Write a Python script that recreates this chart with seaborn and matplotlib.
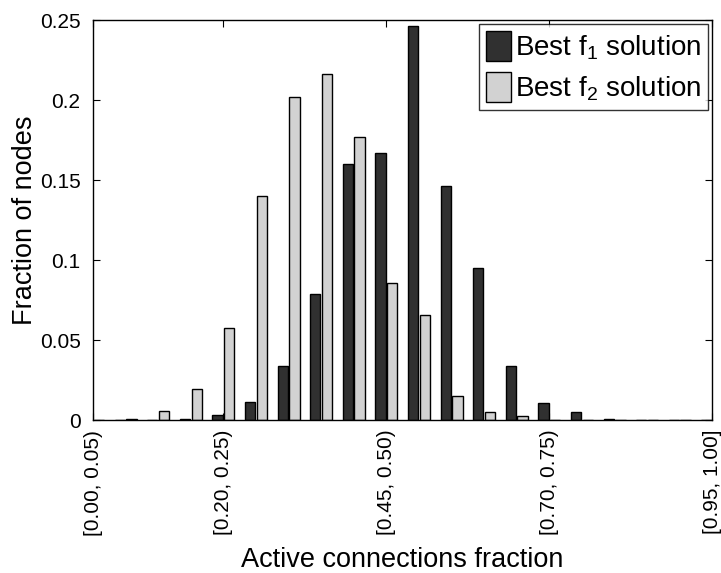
import pandas as pd
import seaborn as sns
import matplotlib.pyplot as plt

# bins of the active connections fraction, width 0.05
bin_labels = ["[%.2f, %.2f)" % (i * 0.05, (i + 1) * 0.05) for i in range(19)] + ["[0.95, 1.00]"]

best_f1 = [0.0, 0.0, 0.0, 0.0005, 0.0033, 0.011, 0.034, 0.079, 0.160, 0.167,
           0.246, 0.146, 0.095, 0.034, 0.0105, 0.0048, 0.0005, 0.0, 0.0, 0.0]
best_f2 = [0.0, 0.0005, 0.0054, 0.0194, 0.0575, 0.140, 0.202, 0.2165, 0.177, 0.0855,
           0.0655, 0.0148, 0.0052, 0.0022, 0.0003, 0.0, 0.0, 0.0, 0.0, 0.0]

series_names = ["Best f$_{1}$ solution", "Best f$_{2}$ solution"]
shown_ticks = [0, 4, 9, 14, 19]


def buildFrame():
    df = pd.DataFrame({
        "bin": bin_labels * 2,
        "fraction": best_f1 + best_f2,
        "series": [series_names[0]] * len(bin_labels) + [series_names[1]] * len(bin_labels)})
    return df


if __name__ == '__main__':

    sns.set_style("ticks")
    plt.rcParams['font.family'] = ['Liberation Sans', 'DejaVu Sans']
    plt.rcParams['mathtext.default'] = 'regular'
    plt.rcParams['xtick.direction'] = 'in'
    plt.rcParams['ytick.direction'] = 'in'
    plt.rcParams['text.color'] = 'black'
    plt.rcParams['axes.labelcolor'] = 'black'
    plt.rcParams['xtick.color'] = 'black'
    plt.rcParams['ytick.color'] = 'black'
    plt.rcParams['axes.edgecolor'] = 'black'

    df = buildFrame()

    fig = plt.figure(figsize=(7.21, 5.73), dpi=100)
    ax = fig.add_axes([0.129, 0.267, 0.859, 0.698])

    sns.barplot(data=df, x="bin", y="fraction", hue="series", order=bin_labels,
                palette=["#303030", "#d2d2d2"], edgecolor="black", linewidth=1.0,
                width=0.72, gap=0.12, ax=ax)

    # MATLAB-like box with inward ticks on every side
    for side in ["top", "right", "left", "bottom"]:
        ax.spines[side].set_visible(True)
        ax.spines[side].set_linewidth(1.0)
    ax.tick_params(top=True, right=True, length=5, labelsize=15)
    ax.tick_params(axis="x", pad=7)
    ax.tick_params(axis="y", pad=9)

    ax.set_xlim(0, 19)
    ax.set_ylim(0, 0.25)
    ax.set_xticks(shown_ticks)
    ax.set_xticklabels([bin_labels[i] for i in shown_ticks], rotation=90)
    ax.set_yticks([0, 0.05, 0.1, 0.15, 0.2, 0.25])
    ax.set_yticklabels(["0", "0.05", "0.1", "0.15", "0.2", "0.25"])

    ax.set_xlabel("Active connections fraction", fontsize=19.5, labelpad=8)
    ax.set_ylabel("Fraction of nodes", fontsize=19.5, labelpad=1)

    leg = ax.legend(loc="upper right", fontsize=20, frameon=True, fancybox=False,
                    edgecolor="black", borderaxespad=0.15, handlelength=0.9,
                    handleheight=1.3, handletextpad=0.15, borderpad=0.25,
                    labelspacing=0.35)
    leg.get_frame().set_linewidth(1.0)

    fig.savefig("out.png", dpi=100)
